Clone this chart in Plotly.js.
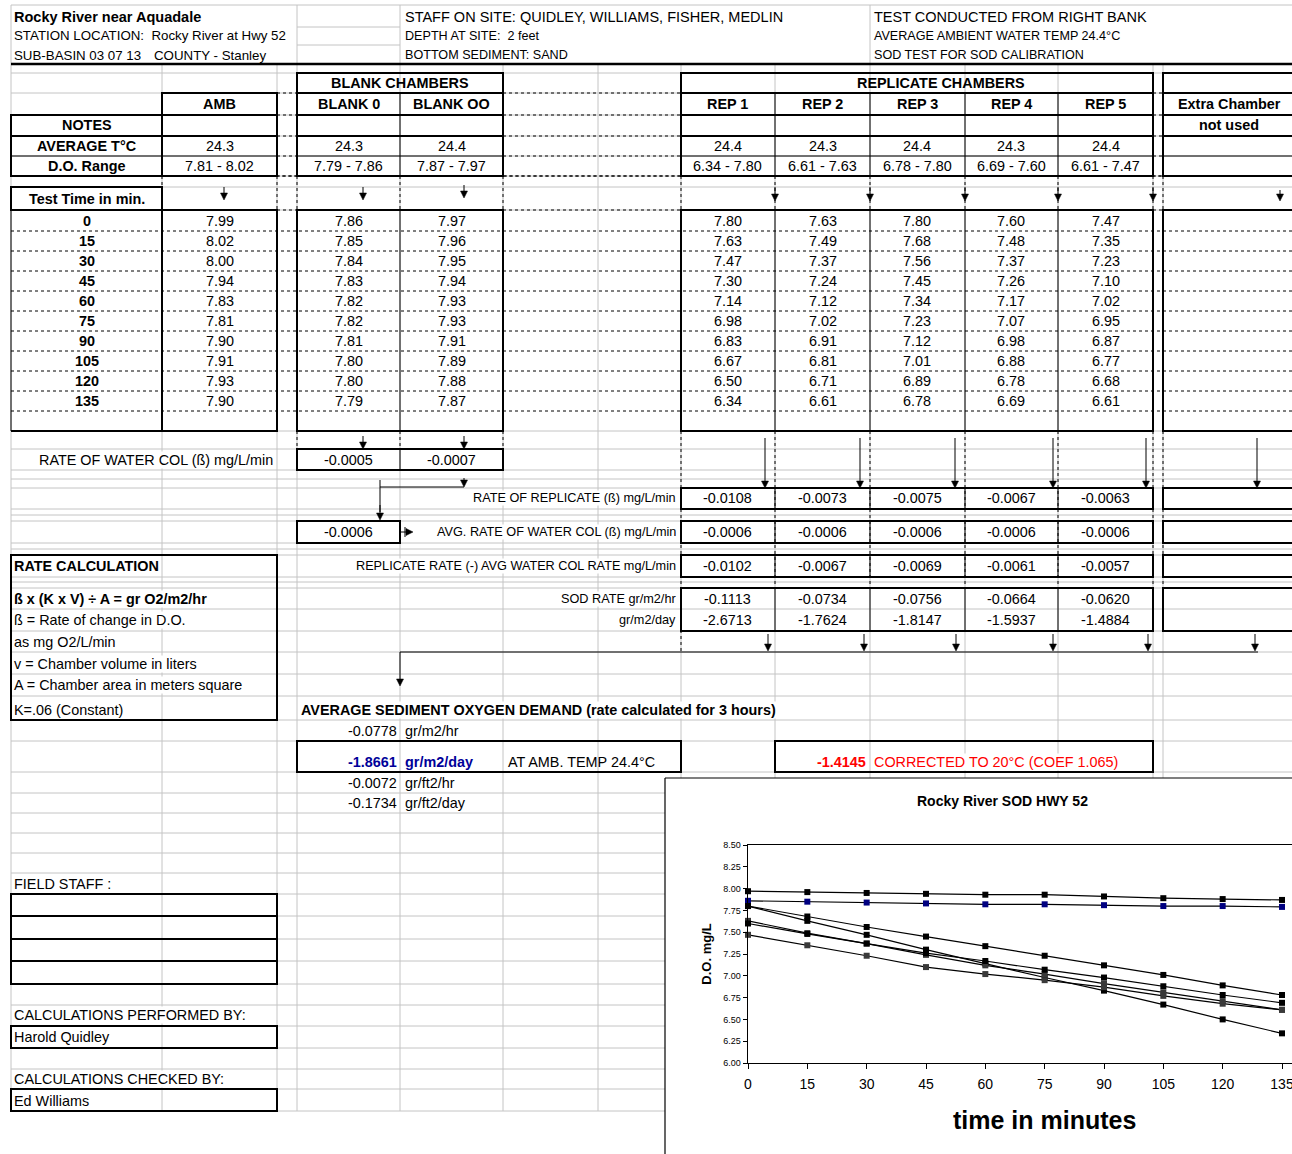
<!DOCTYPE html>
<html><head><meta charset="utf-8">
<script src="https://cdn.plot.ly/plotly-3.0.1.min.js"></script>
<style>html,body{margin:0;padding:0;overflow:hidden;background:#fff;width:1292px;height:1154px}#c{width:1340px;height:1154px}</style>
</head><body><div id="c"></div><script>
// ---------------- data ----------------
const times = [0,15,30,45,60,75,90,105,120,135];
const amb     = [7.99,8.02,8.00,7.94,7.83,7.81,7.90,7.91,7.93,7.90];
const blank0  = [7.86,7.85,7.84,7.83,7.82,7.82,7.81,7.80,7.80,7.79];
const blankOO = [7.97,7.96,7.95,7.94,7.93,7.93,7.91,7.89,7.88,7.87];
const rep1 = [7.80,7.63,7.47,7.30,7.14,6.98,6.83,6.67,6.50,6.34];
const rep2 = [7.63,7.49,7.37,7.24,7.12,7.02,6.91,6.81,6.71,6.61];
const rep3 = [7.80,7.68,7.56,7.45,7.34,7.23,7.12,7.01,6.89,6.78];
const rep4 = [7.60,7.48,7.37,7.26,7.17,7.07,6.98,6.88,6.78,6.69];
const rep5 = [7.47,7.35,7.23,7.10,7.02,6.95,6.87,6.77,6.68,6.61];
const chamberNames = ['AMB','BLANK 0','BLANK OO','REP 1','REP 2','REP 3','REP 4','REP 5'];
const avgTemp = ['24.3','24.3','24.4','24.4','24.3','24.4','24.3','24.4'];
const doRange = ['7.81 - 8.02','7.79 - 7.86','7.87 - 7.97','6.34 - 7.80','6.61 - 7.63','6.78 - 7.80','6.69 - 7.60','6.61 - 7.47'];
const waterColRate = ['-0.0005','-0.0007'];
const avgWaterColRate = '-0.0006';
const repRate  = ['-0.0108','-0.0073','-0.0075','-0.0067','-0.0063'];
const repAvgWC = ['-0.0006','-0.0006','-0.0006','-0.0006','-0.0006'];
const repNet   = ['-0.0102','-0.0067','-0.0069','-0.0061','-0.0057'];
const sodHr    = ['-0.1113','-0.0734','-0.0756','-0.0664','-0.0620'];
const sodDay   = ['-2.6713','-1.7624','-1.8147','-1.5937','-1.4884'];
const avgSod      = ['-0.0778','-1.8661','-0.0072','-0.1734'];
const avgSodUnits = ['gr/m2/hr','gr/m2/day','gr/ft2/hr','gr/ft2/day'];
const corrected = '-1.4145';
const chartSeries = [
  {name:'BLANK 0', y: blank0, mc:'#000080'},
  {name:'BLANK OO', y: blankOO, mc:'#000000'},
  {name:'REP 1', y: rep1, mc:'#000000'},
  {name:'REP 2', y: rep2, mc:'#3a3a3a'},
  {name:'REP 3', y: rep3, mc:'#000000'},
  {name:'REP 4', y: rep4, mc:'#000000'},
  {name:'REP 5', y: rep5, mc:'#3a3a3a'}
];

// ---------------- helpers ----------------
const W = 1340, H = 1154;
const F = 'Liberation Sans, Arial, sans-serif';
const BASE = 14.4;
const px = x => x / W, py = y => 1 - y / H;
const shapes = [], annotations = [];
function line(x0,y0,x1,y1,color,width,dash){
  shapes.push({type:'line',xref:'paper',yref:'paper',x0:px(x0),y0:py(y0),x1:px(x1),y1:py(y1),
    line:{color:color||'#000',width:width||1,dash:dash||'solid'},layer:'below'});
}
function rect(x0,y0,x1,y1,width,fill){
  shapes.push({type:'rect',xref:'paper',yref:'paper',x0:px(x0),y0:py(y0),x1:px(x1),y1:py(y1),
    line:{color:fill&&!width?'rgba(0,0,0,0)':'#000',width:width===undefined?2:width},fillcolor:fill||'rgba(0,0,0,0)',layer:'below'});
}
function path(pts){
  let d = 'M ' + pts.map(p => px(p[0]) + ',' + py(p[1])).join(' L ') + ' Z';
  shapes.push({type:'path',xref:'paper',yref:'paper',path:d,fillcolor:'#000',line:{color:'#000',width:0.5},layer:'below'});
}
function arrowDown(x,y0,y1){ line(x,y0,x,y1-5,'#000',1); path([[x-3.5,y1-7],[x+3.5,y1-7],[x,y1]]); }
function arrowRight(x0,x1,y){ line(x0,y,x1-5,y,'#000',1); path([[x1-7,y-3.5],[x1-7,y+3.5],[x1,y]]); }
function T(text,x,y,o){
  o = o || {};
  const a = {text:text,x:px(x),y:py(y),xref:'paper',yref:'paper',xanchor:o.a||'center',yanchor:'middle',
    showarrow:false,borderpad:0,font:{family:F,size:o.s||BASE,color:o.c||'#000'}};
  if (o.bg) a.bgcolor = '#ffffff';
  annotations.push(a);
}

// ---------------- gridlines ----------------
const G = '#c4c4c4';
const colsX = [11,162,277,297,400,503,598,681,775,870,965,1058,1153,1163];
colsX.forEach(x => { line(x,64,x, x < 665 ? 1111 : 778, G, 1); });
[11,297,400,870].forEach(x => line(x,5,x,64,G,1));
line(11,5,1340,5,G,1);
[27,45].forEach(y => line(297,y,400,y,G,1));
const rowsY = [73,93,115,136,156,176,187,210,431,449,470,479,488,509,515,521,543,549,555,577,582,588,609,631,652,674,696,720,741,772,793,813,833,853,873,894,916,939,961,984,1005,1026,1048,1069,1089,1111];
rowsY.forEach(y => line(11,y, y < 778 ? 1340 : 665, y, G, 1));

// dotted lines
for (let k = 0; k < 10; k++) line(11,231+20*k,1340,231+20*k,'#000',1,'dot');
[93,115,136,156,176,210].forEach(y => { [[277,297],[503,681],[1153,1163]].forEach(s => line(s[0],y,s[1],y,'#000',1,'dot')); });
line(162,176,1340,176,'#000',1,'dot');
[162,277,297,400,503,681,775,870,965,1058,1153,1163].forEach(x => line(x,176,x,210,'#000',1,'dot'));
[681,775,870,965,1058,1153,1163].forEach(x => line(x,431,x,588,'#000',1,'dot'));
[297,400,503].forEach(x => line(x,431,x,449,'#000',1,'dot'));
line(681,588,681,652,'#000',1,'dot');

// chart area white background
rect(665,778,1340,1154,0,'#ffffff');

// ---------------- boxes ----------------
line(11,64,1340,64,'#000',2.5);
rect(297,73,503,93); rect(681,73,1153,93); rect(1163,73,1345,93);
rect(162,93,277,176); rect(297,93,503,176); rect(681,93,1153,176); rect(1163,93,1345,176);
rect(11,115,162,176);
[115,136,176].forEach(y => { line(11,y,277,y,'#000',2); line(297,y,503,y,'#000',2); line(681,y,1153,y,'#000',2); line(1163,y,1340,y,'#000',2); });
[156].forEach(y => { line(11,y,277,y,'#000',1); line(297,y,503,y,'#000',1); line(681,y,1153,y,'#000',1); line(1163,y,1340,y,'#000',1); });
line(400,93,400,176,'#000',1);
[775,870,965,1058].forEach(x => line(x,93,x,176,'#000',1));
rect(11,187,162,210);
rect(162,210,277,431); rect(297,210,503,431); rect(681,210,1153,431); rect(1163,210,1345,431);
line(11,210,11,431,'#000',1); line(11,431,162,431,'#000',2);
line(400,210,400,431,'#000',1);
[775,870,965,1058].forEach(x => line(x,210,x,431,'#000',1));
rect(297,449,503,470); line(400,449,400,470,'#000',1);
[[488,509],[521,543],[555,577],[588,631]].forEach(r => {
  rect(681,r[0],1153,r[1]); rect(1163,r[0],1345,r[1]);
  [775,870,965,1058].forEach(x => line(x,r[0],x,r[1],'#000',1));
});
rect(297,521,400,543);
rect(11,555,277,720);
rect(297,741,681,772);
rect(775,741,1153,772);
[[894,916],[916,939],[939,961],[961,984],[1026,1048],[1089,1111]].forEach(r => rect(11,r[0],277,r[1]));

// arrows
arrowDown(224,187,200); arrowDown(363,187,200); arrowDown(464,185,198);
[775,870,965,1058,1153].forEach(x => arrowDown(x,187,201));
arrowDown(1280,190,201);
arrowDown(363,436,449); arrowDown(464,436,449);
line(380,480,380,512,'#000',1); arrowDown(380,505,520);
line(380,487,464,487,'#000',1); arrowDown(464,478,487);
arrowRight(400,413,532); line(405,527,405,537,'#000',1);
[765,860,955,1053,1146,1257].forEach(x => arrowDown(x,438,488));
[768,864,956,1053,1148,1255].forEach(x => arrowDown(x,634,651));
line(400,652,1258,652,'#000',1.2);
arrowDown(400,652,686);

// chart frame
line(665,778,665,1154,'#000',1.2); line(665,778,1340,778,'#000',1.2);

// ---------------- texts ----------------
T('<b>Rocky River near Aquadale</b>',13,17,{a:'left',s:14.5});
T('STATION LOCATION:\u00a0\u00a0Rocky River at Hwy 52',13,36,{a:'left',s:13.3});
T('SUB-BASIN 03 07 13',13,55,{a:'left',s:13.3});
T('COUNTY - Stanley',153,55,{a:'left',s:13.3});
T('STAFF ON SITE: QUIDLEY, WILLIAMS, FISHER, MEDLIN',404,17,{a:'left',s:14.5});
T('DEPTH AT SITE:\u00a0\u00a02 feet',404,36,{a:'left',s:12.6});
T('BOTTOM SEDIMENT: SAND',404,55,{a:'left',s:12.6});
T('TEST CONDUCTED FROM RIGHT BANK',873,17,{a:'left',s:14.5});
T('AVERAGE AMBIENT WATER TEMP 24.4°C',873,36,{a:'left',s:12.6});
T('SOD TEST FOR SOD CALIBRATION',873,55,{a:'left',s:12.6});

const colC = [219.5,348.5,451.5,728,822.5,917.5,1011.5,1105.5];
const repC = colC.slice(3);
T('<b>BLANK CHAMBERS</b>',400,83);
T('<b>REPLICATE CHAMBERS</b>',941,83);
chamberNames.forEach((n,i) => T('<b>'+n+'</b>',colC[i],104));
T('<b>Extra Chamber</b>',1229,104);
T('<b>not used</b>',1229,125);
T('<b>NOTES</b>',86.5,125);
T('<b>AVERAGE T°C</b>',86.5,146);
T('<b>D.O. Range</b>',86.5,166);
avgTemp.forEach((v,i) => T(v,colC[i],146));
doRange.forEach((v,i) => T(v,colC[i],166));
T('<b>Test Time in min.</b>',86.5,199);
const tableSeries = [amb,blank0,blankOO,rep1,rep2,rep3,rep4,rep5];
times.forEach((t,k) => {
  const y = 221 + 20*k;
  T('<b>'+t+'</b>',86.5,y);
  tableSeries.forEach((s,i) => T(s[k].toFixed(2),colC[i],y));
});

T('RATE OF WATER COL (ß) mg/L/min',274,460,{a:'right',bg:1});
waterColRate.forEach((v,i) => T(v,colC[1+i],460));
T('RATE OF REPLICATE (ß) mg/L/min',677,498,{a:'right',s:12.7,bg:1});
repRate.forEach((v,i) => T(v,repC[i],498));
T(avgWaterColRate,348.5,532);
T('AVG. RATE OF WATER COL (ß) mg/L/min',677,532,{a:'right',s:12.7,bg:1});
repAvgWC.forEach((v,i) => T(v,repC[i],532));
T('REPLICATE RATE (-) AVG WATER COL RATE mg/L/min',677,566,{a:'right',s:12.7,bg:1});
repNet.forEach((v,i) => T(v,repC[i],566));
T('SOD RATE gr/m2/hr',677,599,{a:'right',s:12.7,bg:1});
T('gr/m2/day',677,620,{a:'right',s:12.7,bg:1});
sodHr.forEach((v,i) => T(v,repC[i],599));
sodDay.forEach((v,i) => T(v,repC[i],620));

T('<b>RATE CALCULATION</b>',13,566,{a:'left',bg:1});
T('<b>ß x (K x V) ÷ A = gr O2/m2/hr</b>',13,599,{a:'left',bg:1});
T('ß = Rate of change in D.O.',13,620,{a:'left',bg:1});
T('as mg O2/L/min',13,642,{a:'left'});
T('v = Chamber volume in liters',13,664,{a:'left',bg:1});
T('A = Chamber area in meters square',13,685,{a:'left',bg:1});
T('K=.06 (Constant)',13,710,{a:'left'});
T('<b>AVERAGE SEDIMENT OXYGEN DEMAND (rate calculated for 3 hours)</b>',300,710,{a:'left',bg:1});
const sodY = [731,762,783,803];
avgSod.forEach((v,i) => {
  if (i === 1) {
    T('<b>'+v+'</b>',398,sodY[i],{a:'right',c:'#000099'});
    T('<b>'+avgSodUnits[i]+'</b>',404,sodY[i],{a:'left',c:'#000099'});
  } else {
    T(v,398,sodY[i],{a:'right'});
    T(avgSodUnits[i],404,sodY[i],{a:'left'});
  }
});
T('AT AMB. TEMP 24.4°C',507,762,{a:'left'});
T('<b>'+corrected+'</b>',867,762,{a:'right',c:'#ff0000'});
T('CORRECTED TO 20°C (COEF 1.065)',873,762,{a:'left',c:'#ff0000',bg:1});
T('FIELD STAFF :',13,884,{a:'left',bg:1});
T('CALCULATIONS PERFORMED BY:',13,1015,{a:'left',bg:1});
T('Harold Quidley',13,1037,{a:'left'});
T('CALCULATIONS CHECKED BY:',13,1079,{a:'left',bg:1});
T('Ed Williams',13,1101,{a:'left'});

T('<b>Rocky River SOD HWY 52</b>',1002,801,{s:14});
T('<b>time in minutes</b>',1044,1120,{s:25});

// ---------------- chart ----------------
const traces = chartSeries.map(s => ({
  type:'scatter', mode:'lines+markers', name:s.name, x:times, y:s.y,
  line:{color:'#000',width:1.2},
  marker:{symbol:'square',size:6,color:s.mc},
  cliponaxis:false, hoverinfo:'skip'
}));
const xRight = 1320, x0px = 748, x135 = 1282;
const layout = {
  width:W, height:H, margin:{l:0,r:0,t:0,b:0},
  paper_bgcolor:'#ffffff', plot_bgcolor:'rgba(0,0,0,0)', showlegend:false,
  xaxis:{domain:[px(x0px),px(xRight)], range:[0,135*(xRight-x0px)/(x135-x0px)],
    tickvals:times, ticktext:times.map(String), ticks:'outside', ticklen:5, tickcolor:'#000',
    ticklabelstandoff:3,
    showline:true, linecolor:'#000', linewidth:1.3, mirror:true, showgrid:false, zeroline:false,
    tickfont:{family:F,size:14,color:'#000'}},
  yaxis:{domain:[py(1063),py(845)], range:[6,8.5], dtick:0.25, tick0:6, tickformat:'.2f',
    ticks:'outside', ticklen:4, tickcolor:'#000',
    showline:true, linecolor:'#000', linewidth:1.3, mirror:true, showgrid:false, zeroline:false,
    tickfont:{family:F,size:9,color:'#000'},
    title:{text:'<b>D.O. mg/L</b>', font:{family:F,size:13,color:'#000'}, standoff:8}},
  shapes:shapes, annotations:annotations
};
Plotly.newPlot('c', traces, layout, {staticPlot:true});
</script></body></html>
